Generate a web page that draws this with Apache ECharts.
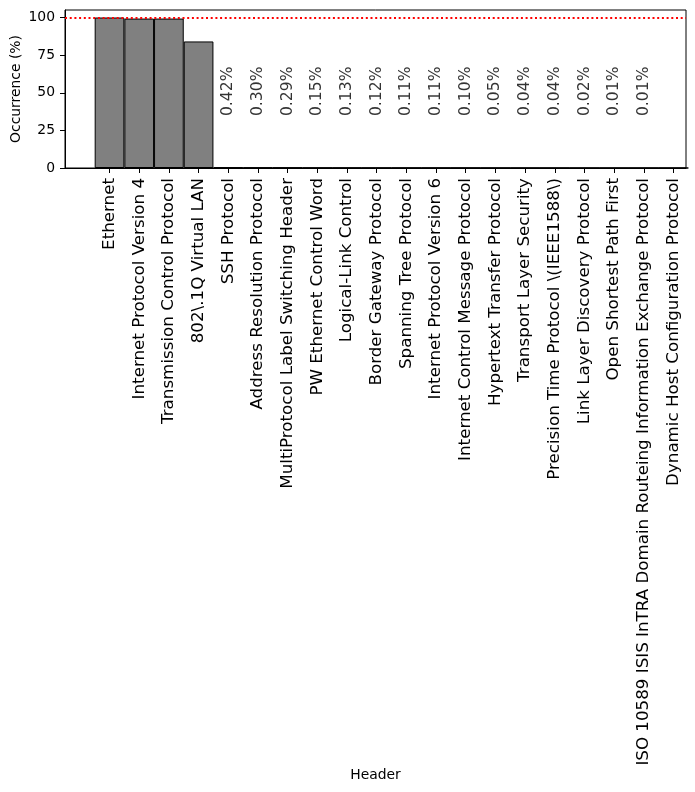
<!DOCTYPE html>
<html>
<head>
    <meta charset="UTF-8">
    <title>Header occurrence</title>
    <script src="https://cdn.jsdelivr.net/npm/echarts@6/dist/echarts.min.js"></script>
    <style>
        html, body { margin: 0; padding: 0; background: #fff; }
        #chart { width: 695px; height: 792px; }
    </style>
</head>
<body>
<div id="chart"></div>
<script type="text/javascript">
    // 协议名称（x 轴）
    var headers = [
        'Ethernet',
        'Internet Protocol Version 4',
        'Transmission Control Protocol',
        '802\\.1Q Virtual LAN',
        'SSH Protocol',
        'Address Resolution Protocol',
        'MultiProtocol Label Switching Header',
        'PW Ethernet Control Word',
        'Logical-Link Control',
        'Border Gateway Protocol',
        'Spanning Tree Protocol',
        'Internet Protocol Version 6',
        'Internet Control Message Protocol',
        'Hypertext Transfer Protocol',
        'Transport Layer Security',
        'Precision Time Protocol \\(IEEE1588\\)',
        'Link Layer Discovery Protocol',
        'Open Shortest Path First',
        'ISO 10589 ISIS InTRA Domain Routeing Information Exchange Protocol',
        'Dynamic Host Configuration Protocol'
    ];
    // 出现比例 (%)
    var occurrence = [100, 99.3, 99.3, 84.1, 0.42, 0.30, 0.29, 0.15, 0.13, 0.12, 0.11,
        0.11, 0.10, 0.05, 0.04, 0.04, 0.02, 0.01, 0.01, 0.003];
    var yTicks = [0, 25, 50, 75, 100];
    var refLine = 100;

    var labelY = 34.5;   // 百分比文字的起点高度
    var font = 'DejaVu Sans';

    var idx = headers.map(function (h, i) { return i; });
    var barData = occurrence.map(function (v, i) { return [i, v]; });
    var pctData = [];
    occurrence.forEach(function (v, i) {
        if (v < 1 && v >= 0.005) {
            pctData.push([i, labelY, v]);
        }
    });

    var myChart = echarts.init(document.getElementById('chart'));
    var option = {
        animation: false,
        backgroundColor: '#fff',
        textStyle: { fontFamily: font },
        grid: {
            left: 65,
            right: 9,
            top: 10,
            bottom: 624,
            outerBoundsMode: 'none',
            show: true,
            borderColor: '#000',
            borderWidth: 1
        },
        xAxis: {
            type: 'value',
            min: -1.5,
            max: 19.42,
            name: 'Header',
            nameLocation: 'middle',
            nameGap: 600,
            nameMoveOverlap: false,
            nameTextStyle: { color: '#000', fontSize: 13.9, fontFamily: font },
            splitLine: { show: false },
            axisLine: { show: true, onZero: false, lineStyle: { color: '#000', width: 1 } },
            axisTick: {
                show: true,
                length: 5,
                customValues: idx,
                lineStyle: { color: '#000' }
            },
            axisLabel: {
                customValues: idx,
                rotate: 90,
                margin: 10,
                color: '#000',
                fontSize: 16.7,
                fontFamily: font,
                formatter: function (v) { return headers[Math.round(v)]; }
            }
        },
        yAxis: {
            type: 'value',
            min: 0,
            max: 105,
            name: 'Occurrence (%)',
            nameLocation: 'middle',
            nameGap: 42,
            nameMoveOverlap: false,
            nameTextStyle: { color: '#000', fontSize: 13.9, fontFamily: font },
            splitLine: { show: false },
            axisLine: { show: true, onZero: false, lineStyle: { color: '#000', width: 1 } },
            axisTick: {
                show: true,
                length: 5,
                customValues: yTicks,
                lineStyle: { color: '#000' }
            },
            axisLabel: {
                customValues: yTicks,
                margin: 10,
                color: '#000',
                fontSize: 13.9,
                fontFamily: font
            }
        },
        series: [
            {
                name: 'occurrence',
                type: 'bar',
                barWidth: '100%',
                data: barData,
                itemStyle: {
                    color: '#808080',
                    borderColor: '#000',
                    borderWidth: 1
                },
                markLine: {
                    silent: true,
                    symbol: 'none',
                    label: { show: false },
                    lineStyle: { color: '#ff0000', type: [2, 2.7], width: 2 },
                    data: [{ yAxis: refLine }]
                }
            },
            {
                name: 'pct',
                type: 'scatter',
                symbolSize: 0,
                data: pctData,
                silent: true,
                label: {
                    show: true,
                    position: 'inside',
                    rotate: 90,
                    align: 'left',
                    verticalAlign: 'middle',
                    color: '#000',
                    fontSize: 15.6,
                    fontFamily: font,
                    formatter: function (p) { return p.data[2].toFixed(2) + '%'; }
                }
            }
        ]
    };
    myChart.setOption(option);
</script>
</body>
</html>
